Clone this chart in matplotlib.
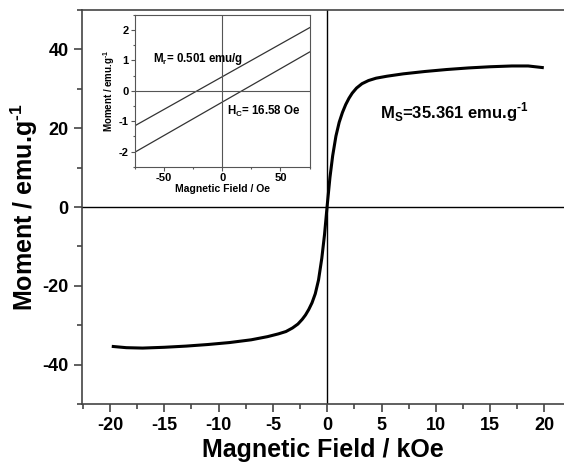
import numpy as np
import matplotlib
matplotlib.use('Agg')
import matplotlib.pyplot as plt
from matplotlib.ticker import MultipleLocator

plt.rcParams['font.family'] = ['Liberation Sans', 'DejaVu Sans']
plt.rcParams['axes.unicode_minus'] = False
plt.rcParams['mathtext.fontset'] = 'custom'
plt.rcParams['mathtext.rm'] = 'Liberation Sans:bold'
plt.rcParams['mathtext.bf'] = 'Liberation Sans:bold'

# main M-H loop (kOe, emu/g)
field = [-19.7, -18.5, -17.0, -15.0, -13.0, -11.0, -9.0, -7.0, -5.5, -4.5, -3.8,
         -3.2, -2.7, -2.3, -2.0, -1.7, -1.4, -1.1, -0.8, -0.5, -0.25, 0.0,
         0.25, 0.5, 0.8, 1.1, 1.4, 1.7, 2.0, 2.3, 2.7, 3.2, 3.8, 4.5, 5.5,
         7.0, 9.0, 11.0, 13.0, 15.0, 17.0, 18.5, 19.8]
moment = [-35.4, -35.7, -35.8, -35.6, -35.3, -34.9, -34.4, -33.7, -32.9, -32.2, -31.6,
          -30.7, -29.7, -28.5, -27.4, -26.0, -24.3, -22.0, -18.5, -13.0, -7.0, 0.5,
          7.5, 13.0, 18.0, 21.5, 24.0, 26.0, 27.6, 28.9, 30.2, 31.3, 32.1, 32.7, 33.2,
          33.8, 34.4, 34.9, 35.3, 35.6, 35.8, 35.8, 35.4]

# inset: low-field branches (Oe, emu/g)
field_in = [-75, 75]
upper_in = [-1.15, 2.08]
lower_in = [-2.02, 1.28]

sup = '$^{\\text{-1}}$'

fig = plt.figure(figsize=(5.64, 4.66), dpi=100)
ax = fig.add_axes([0.145, 0.133, 0.855, 0.8455])
ax.plot(field, moment, color='black', lw=2.2)
ax.axhline(0, color='black', lw=1.0)
ax.axvline(0, color='black', lw=1.0)
ax.set_xlim(-22.6, 21.8)
ax.set_ylim(-50, 50)
ax.xaxis.set_major_locator(MultipleLocator(5))
ax.xaxis.set_minor_locator(MultipleLocator(2.5))
ax.yaxis.set_major_locator(MultipleLocator(20))
ax.yaxis.set_minor_locator(MultipleLocator(10))
ax.tick_params(which='both', direction='out', labelsize=13, width=1.2, color='#444444')
ax.tick_params(which='major', length=6)
ax.tick_params(which='minor', length=3.5)
for lab in ax.get_xticklabels() + ax.get_yticklabels():
    lab.set_fontweight('bold')
ax.spines['right'].set_visible(False)
for s in ['left', 'bottom', 'top']:
    ax.spines[s].set_color('#444444')
    ax.spines[s].set_linewidth(1.2)
ax.set_xlabel('Magnetic Field / kOe', fontsize=18, fontweight='bold', labelpad=3)
ax.set_ylabel('Moment / emu.g' + sup, fontsize=18, fontweight='bold', labelpad=2)
ax.text(4.9, 24.0, 'M$_\\mathrm{S}$=35.361 emu.g' + sup, fontsize=12,
        fontweight='bold', va='center', ha='left')

# inset
axi = fig.add_axes([0.239, 0.642, 0.310, 0.326])
axi.plot(field_in, upper_in, color='#333333', lw=0.9)
axi.plot(field_in, lower_in, color='#333333', lw=0.9)
axi.axhline(0, color='#555555', lw=0.8)
axi.axvline(0, color='#555555', lw=0.8)
axi.set_xlim(-75, 75)
axi.set_ylim(-2.5, 2.5)
axi.xaxis.set_major_locator(MultipleLocator(50))
axi.xaxis.set_minor_locator(MultipleLocator(25))
axi.yaxis.set_major_locator(MultipleLocator(1))
axi.yaxis.set_minor_locator(MultipleLocator(0.5))
axi.tick_params(which='both', direction='out', labelsize=8, width=0.8, color='#555555', pad=1.5)
axi.tick_params(which='major', length=3)
axi.tick_params(which='minor', length=1.5)
for lab in axi.get_xticklabels() + axi.get_yticklabels():
    lab.set_fontweight('bold')
for s in axi.spines.values():
    s.set_color('#555555')
    s.set_linewidth(0.8)
axi.set_xlabel('Magnetic Field / Oe', fontsize=7.5, fontweight='bold', labelpad=1)
axi.set_ylabel('Moment / emu.g' + sup, fontsize=7, fontweight='bold', labelpad=1)
axi.text(-59, 1.05, 'M$_\\mathrm{r}$= 0.501 emu/g', fontsize=8.3, fontweight='bold', va='center')
axi.text(4, -0.68, 'H$_\\mathrm{C}$= 16.58 Oe', fontsize=8.3, fontweight='bold', va='center')

fig.savefig('out.png', dpi=100)
